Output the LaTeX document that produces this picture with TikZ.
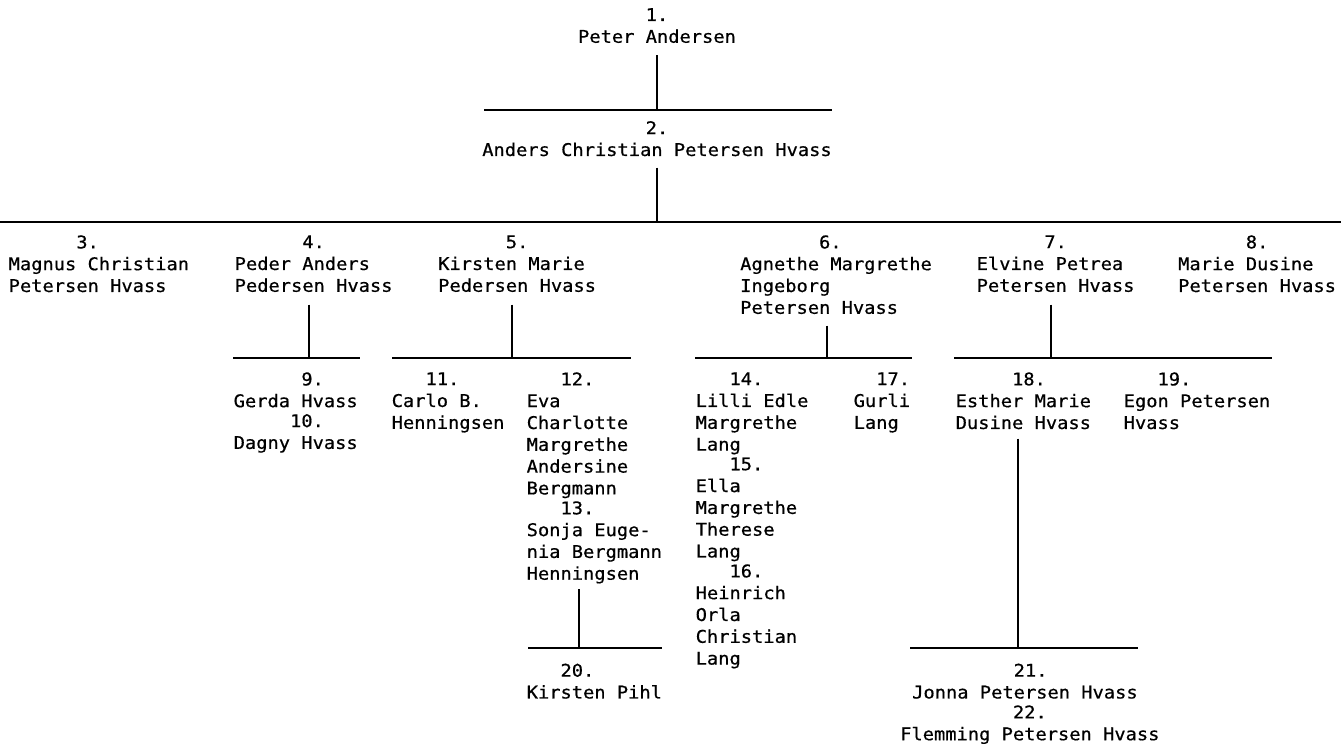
\documentclass[tikz,border=0pt]{standalone}
\usepackage{fontspec}
\setmonofont[FakeStretch=1.07,FakeBold=0.6]{DejaVu Sans Mono}
\usetikzlibrary{positioning}
\newcommand{\pad}[1]{\hspace*{#1\fontcharwd\font`0}}

\begin{document}
\begin{tikzpicture}[x=1pt, y=-1pt,
    pers/.style={font=\ttfamily\fontsize{17.5}{21.8}\selectfont, align=left,
      anchor=north west, inner sep=0pt,
      execute at begin node=\strut, execute at end node=\strut},
    head/.style={pers, align=center, anchor=north},
    tie/.style={line width=1.8pt}
  ]
  \useasboundingbox (0,0) rectangle (1341,744);

  % generation 1 and 2
  \node[head] (p1) at (657,8) {1.\\Peter Andersen};
  \node[head] (p2) at (657,121) {2.\\Anders Christian Petersen Hvass};

  % children of 2
  \node[pers] (p3) at (8.5,235.2) {\pad{6}3.\\Magnus Christian\\Petersen Hvass};
  \node[pers] (p4) at (234.5,235.2) {\pad{6}4.\\Peder Anders\\Pedersen Hvass};
  \node[pers] (p5) at (438,235.2) {\pad{6}5.\\Kirsten Marie\\Pedersen Hvass};
  \node[pers] (p6) at (740,235.2) {\pad{7}6.\\Agnethe Margrethe\\Ingeborg\\Petersen Hvass};
  \node[pers] (p7) at (976.5,235.2) {\pad{6}7.\\Elvine Petrea\\Petersen Hvass};
  \node[pers] (p8) at (1178,235.2) {\pad{6}8.\\Marie Dusine\\Petersen Hvass};

  % grandchildren
  \node[pers] (p9) at (233.5,372.2) {\pad{6}9.\\Gerda Hvass};
  \node[pers, below=0pt of p9.south west, anchor=north west] (p10) {\pad{5}10.\\Dagny Hvass};
  \node[pers] (p11) at (391.5,372.2) {\pad{3}11.\\Carlo B.\\Henningsen};
  \node[pers] (p12) at (526.5,372.2) {\pad{3}12.\\Eva\\Charlotte\\Margrethe\\Andersine\\Bergmann};
  \node[pers, below=0pt of p12.south west, anchor=north west] (p13) {\pad{3}13.\\Sonja Euge-\\nia Bergmann\\Henningsen};
  \node[pers] (p14) at (695.5,372.2) {\pad{3}14.\\Lilli Edle\\Margrethe\\Lang};
  \node[pers, below=0pt of p14.south west, anchor=north west] (p15) {\pad{3}15.\\Ella\\Margrethe\\Therese\\Lang};
  \node[pers, below=0pt of p15.south west, anchor=north west] (p16) {\pad{3}16.\\Heinrich\\Orla\\Christian\\Lang};
  \node[pers] (p17) at (853.5,372.2) {\pad{2}17.\\Gurli\\Lang};
  \node[pers] (p18) at (955.5,372.2) {\pad{5}18.\\Esther Marie\\Dusine Hvass};
  \node[pers] (p19) at (1123.5,372.2) {\pad{3}19.\\Egon Petersen\\Hvass};

  % great-grandchildren
  \node[pers] (p20) at (526.5,663.5) {\pad{3}20.\\Kirsten Pihl};
  \node[pers] (p21) at (912,663.5) {\pad{9}21.\\Jonna Petersen Hvass};
  \node[pers, below=0pt of p21.south west, anchor=north west, xshift=-12pt] (p22) {\pad{10}22.\\Flemming Petersen Hvass};

  % bars
  \coordinate (j1) at (657,110);  \coordinate (b1w) at (484,110);  \coordinate (b1e) at (832,110);
  \coordinate (j2) at (657,222);  \coordinate (b2w) at (0,222);    \coordinate (b2e) at (1341,222);
  \coordinate (j4) at (309,358);  \coordinate (b4w) at (233,358);  \coordinate (b4e) at (360,358);
  \coordinate (j5) at (512,358);  \coordinate (b5w) at (392,358);  \coordinate (b5e) at (631,358);
  \coordinate (j6) at (827,358);  \coordinate (b6w) at (695,358);  \coordinate (b6e) at (912,358);
  \coordinate (j7) at (1051,358); \coordinate (b7w) at (954,358);  \coordinate (b7e) at (1272,358);
  \coordinate (j13) at (579,648); \coordinate (b13w) at (528,648); \coordinate (b13e) at (662,648);
  \coordinate (j18) at (1018,648); \coordinate (b18w) at (910,648); \coordinate (b18e) at (1138,648);

  \draw[tie] (b1w) -- (b1e);
  \draw[tie] (b2w) -- (b2e);
  \draw[tie] (b4w) -- (b4e);
  \draw[tie] (b5w) -- (b5e);
  \draw[tie] (b6w) -- (b6e);
  \draw[tie] (b7w) -- (b7e);
  \draw[tie] (b13w) -- (b13e);
  \draw[tie] (b18w) -- (b18e);

  % descent lines
  \draw[tie, shorten <=6pt] (p1.south) -- (j1);
  \draw[tie, shorten <=5pt] (p2.south) -- (j2);
  \draw[tie, shorten <=6pt] (p4.south -| j4) -- (j4);
  \draw[tie, shorten <=6pt] (p5.south -| j5) -- (j5);
  \draw[tie, shorten <=5pt] (p6.south -| j6) -- (j6);
  \draw[tie, shorten <=6pt] (p7.south -| j7) -- (j7);
  \draw[tie, shorten <=3pt] (p13.south -| j13) -- (j13);
  \draw[tie, shorten <=3pt] (p18.south -| j18) -- (j18);
\end{tikzpicture}
\end{document}
